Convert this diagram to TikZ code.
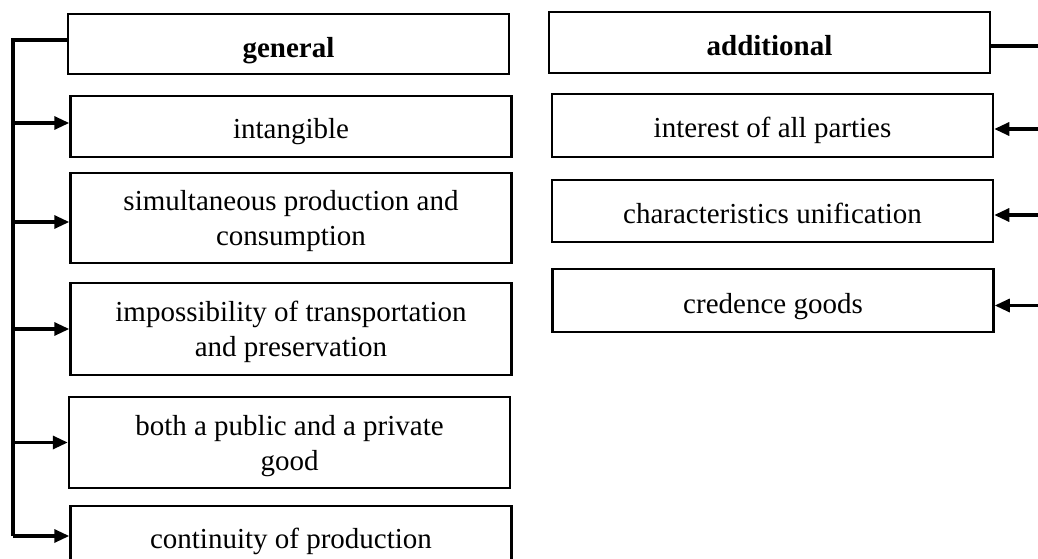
\documentclass[tikz,border=0pt]{standalone}
\usepackage{fontspec}
\setmainfont{Liberation Serif}
\usetikzlibrary{arrows.meta}

\tikzset{
  box/.style={draw=black, line width=2.5pt, fill=white, inner sep=0pt,
    minimum width=441pt, align=center, text depth=0pt,
    font=\fontsize{29}{35}\selectfont},
  oneline/.style={box, text height=25pt},
  headbox/.style={box, text height=27pt, font=\fontsize{29}{35}\selectfont\bfseries},
  link/.style={line width=3.2pt, black},
  arr/.style={link, -{Triangle[length=15pt,width=13pt]}},
}

\begin{document}
\begin{tikzpicture}[x=1pt, y=-1pt]
  \clip (0,0) rectangle (1038,559);
  \fill[white] (0,0) rectangle (1038,559);

  % left column: general properties
  \node[headbox, minimum height=60pt] (general) at (288.5,44) {general};
  \node[oneline, minimum height=61pt] (intangible) at (291,126.5) {intangible};
  \node[box, minimum height=90pt] (simult) at (291,218) {simultaneous production and\\consumption};
  \node[box, minimum height=92pt] (imposs) at (291,329) {impossibility of transportation\\and preservation};
  \node[box, minimum height=91pt] (both) at (289.5,442.5) {both a public and a private\\good};
  \node[oneline, minimum height=60pt] (contin) at (291,536) {continuity of production};

  % right column: additional properties
  \node[headbox, minimum height=61pt] (additional) at (769.5,42.5) {additional};
  \node[oneline, minimum height=63pt] (interest) at (772.5,125.5) {interest of all parties};
  \node[oneline, minimum height=62pt] (unif) at (772.5,211) {characteristics unification};
  \node[oneline, minimum height=63pt] (credence) at (773,300.5) {credence goods};

  % trunk positions
  \coordinate (ltrunk) at (13,0);
  \coordinate (rtrunk) at (1050,0);

  % left bracket with arrows
  \draw[link] ([yshift=4pt]general.west) -- ([yshift=4pt]general.west -| ltrunk) -- (contin.west -| ltrunk);
  \draw[arr] ([yshift=3.5pt]intangible.west -| ltrunk) -- ([yshift=3.5pt]intangible.west);
  \draw[arr] ([yshift=-4pt]simult.west -| ltrunk) -- ([yshift=-4pt]simult.west);
  \draw[arr] (imposs.west -| ltrunk) -- (imposs.west);
  \draw[arr] (both.west -| ltrunk) -- (both.west);
  \draw[arr] (contin.west -| ltrunk) -- (contin.west);

  % right bracket with arrows
  \draw[link] ([yshift=-3.5pt]additional.east) -- ([yshift=-3.5pt]additional.east -| rtrunk) -- ([yshift=-5pt]credence.east -| rtrunk);
  \draw[arr] ([yshift=-3.5pt]interest.east -| rtrunk) -- ([yshift=-3.5pt]interest.east);
  \draw[arr] ([yshift=-4pt]unif.east -| rtrunk) -- ([yshift=-4pt]unif.east);
  \draw[arr] ([yshift=-5pt]credence.east -| rtrunk) -- ([yshift=-5pt]credence.east);
\end{tikzpicture}
\end{document}
